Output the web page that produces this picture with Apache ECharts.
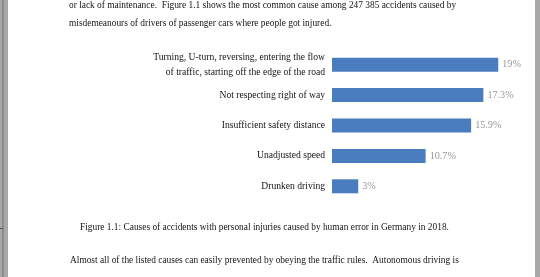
<!DOCTYPE html>
<html><head><meta charset="utf-8">
<script src="https://cdn.jsdelivr.net/npm/echarts@6/dist/echarts.min.js"></script>
<style>html,body{margin:0;padding:0;background:#fff;}#c{width:540px;height:277px;}</style>
</head><body><div id="c"></div>
<script>
const categories = [
  "Turning, U-turn, reversing, entering the flow\nof traffic, starting off the edge of the road",
  "Not respecting right of way",
  "Insufficient safety distance",
  "Unadjusted speed",
  "Drunken driving"
];
const values = [19, 17.3, 15.9, 10.7, 3];
const valueLabels = ["19%", "17.3%", "15.9%", "10.7%", "3%"];
const textLines = [
  "or lack of maintenance.  Figure 1.1 shows the most common cause among 247 385 accidents caused by",
  "misdemeanours of drivers of passenger cars where people got injured.",
  "Figure 1.1: Causes of accidents with personal injuries caused by human error in Germany in 2018.",
  "Almost all of the listed causes can easily prevented by obeying the traffic rules.  Autonomous driving is"
];
const serif = '"Liberation Serif", "DejaVu Serif", serif';
const bodyFont = '9.4px ' + serif;
const chart = echarts.init(document.getElementById('c'), null, {renderer: 'canvas'});
function line(txt, x, y) {
  return {type: 'text', x: x, y: y, style: {text: txt, font: bodyFont, fill: '#151515', verticalAlign: 'middle', align: 'left'}, silent: true};
}
chart.setOption({
  animation: false,
  backgroundColor: '#ffffff',
  grid: {left: 332, top: 49.5, width: 175, height: 152, containLabel: false},
  xAxis: {type: 'value', min: 0, max: 20, show: false},
  yAxis: {
    type: 'category', data: categories, inverse: true,
    axisLine: {show: false}, axisTick: {show: false}, splitLine: {show: false},
    axisLabel: {margin: 7, color: '#151515', fontFamily: serif, fontSize: 9.6, lineHeight: 15, align: 'right'}
  },
  series: [{
    type: 'bar', data: values, barWidth: 14,
    itemStyle: {color: '#4a7cc0'},
    label: {show: true, position: 'right', distance: 4, color: '#999999', fontFamily: serif, fontSize: 10.2,
      formatter: p => valueLabels[p.dataIndex]}
  }],
  graphic: [
    {type: 'rect', left: 0, top: 0, shape: {width: 8, height: 277}, style: {fill: '#a8a8a8'}, silent: true},
    {type: 'rect', left: 2, top: 0, shape: {width: 2, height: 277}, style: {fill: '#8c8c8c'}, silent: true},
    {type: 'rect', left: 0, top: 228, shape: {width: 3, height: 1}, style: {fill: '#555555'}, silent: true},
    {type: 'rect', left: 535, top: 0, shape: {width: 5, height: 277}, style: {fill: '#a8a8a8'}, silent: true},
    line(textLines[0], 69, 6),
    line(textLines[1], 69, 24),
    line(textLines[2], 80, 228),
    line(textLines[3], 70, 261)
  ]
});
</script></body></html>
